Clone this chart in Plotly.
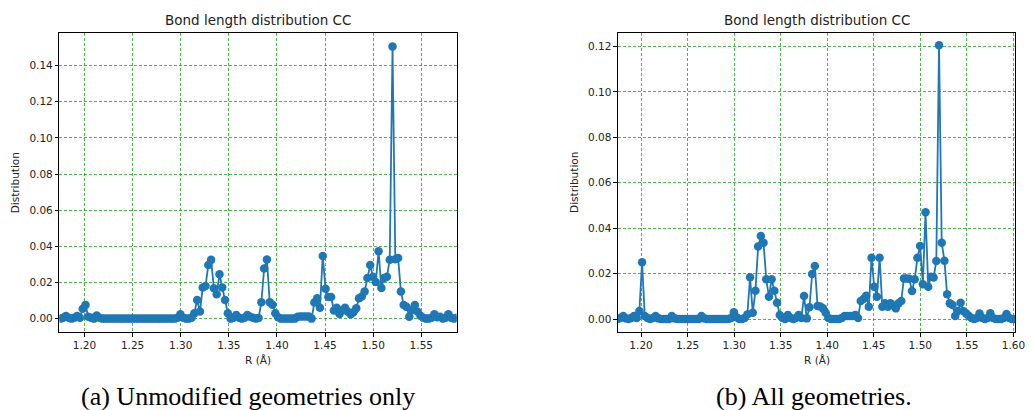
import plotly.graph_objects as go

# Bin centres (R, in Angstrom) shared by both panels
r_bins = [
    1.1750, 1.1779, 1.1808, 1.1837, 1.1866, 1.1895, 1.1924, 1.1953, 1.1982, 1.2011,
    1.2040, 1.2069, 1.2098, 1.2127, 1.2156, 1.2185, 1.2214, 1.2243, 1.2272, 1.2301,
    1.2330, 1.2359, 1.2388, 1.2417, 1.2446, 1.2475, 1.2504, 1.2533, 1.2562, 1.2591,
    1.2620, 1.2649, 1.2678, 1.2707, 1.2736, 1.2765, 1.2794, 1.2823, 1.2852, 1.2881,
    1.2910, 1.2939, 1.2968, 1.2997, 1.3026, 1.3055, 1.3084, 1.3113, 1.3142, 1.3171,
    1.3200, 1.3229, 1.3258, 1.3287, 1.3316, 1.3345, 1.3374, 1.3403, 1.3432, 1.3461,
    1.3490, 1.3519, 1.3548, 1.3577, 1.3606, 1.3635, 1.3664, 1.3693, 1.3722, 1.3751,
    1.3780, 1.3809, 1.3838, 1.3867, 1.3896, 1.3925, 1.3954, 1.3983, 1.4012, 1.4041,
    1.4070, 1.4099, 1.4128, 1.4157, 1.4186, 1.4215, 1.4244, 1.4273, 1.4302, 1.4331,
    1.4360, 1.4389, 1.4418, 1.4447, 1.4476, 1.4505, 1.4534, 1.4563, 1.4592, 1.4621,
    1.4650, 1.4679, 1.4708, 1.4737, 1.4766, 1.4795, 1.4824, 1.4853, 1.4882, 1.4911,
    1.4940, 1.4969, 1.4998, 1.5027, 1.5056, 1.5085, 1.5114, 1.5143, 1.5172, 1.5201,
    1.5230, 1.5259, 1.5288, 1.5317, 1.5346, 1.5375, 1.5404, 1.5433, 1.5462, 1.5491,
    1.5520, 1.5549, 1.5578, 1.5607, 1.5636, 1.5665, 1.5694, 1.5723, 1.5752, 1.5781,
    1.5810, 1.5839, 1.5868, 1.5897, 1.5926, 1.5955, 1.5984, 1.6013,
]

# (a) Unmodified geometries only
dist_a = [
    0, 0.0005, 0.0015, 0.0005, 0, 0.0005, 0.0015, 0.0005, 0.0055, 0.0076,
    0.001, 0.0005, 0, 0.0017, 0.0005, 0, 0, 0, 0, 0,
    0, 0, 0, 0, 0, 0, 0, 0, 0, 0,
    0, 0, 0, 0, 0, 0, 0, 0, 0, 0,
    0, 0, 0.0005, 0.0024, 0.0005, 0, 0, 0.0005, 0.003, 0.0103,
    0.0039, 0.0172, 0.018, 0.0297, 0.0325, 0.0168, 0.0135, 0.0246, 0.0172, 0.0103,
    0.003, 0, 0.0005, 0.002, 0.0005, 0, 0.0005, 0.002, 0.001, 0.0005,
    0, 0.0003, 0.009, 0.0277, 0.0327, 0.009, 0.0077, 0.003, 0.0008, 0,
    0, 0, 0, 0, 0, 0.001, 0.0012, 0.0012, 0.0012, 0.0012,
    0, 0.0089, 0.0113, 0.006, 0.0347, 0.0165, 0.012, 0.012, 0.0045, 0.006,
    0.0025, 0.0045, 0.006, 0.0038, 0.0024, 0.0035, 0.0058, 0.0113, 0.0122, 0.015,
    0.0225, 0.0297, 0.0232, 0.0203, 0.0373, 0.017, 0.0225, 0.0232, 0.0326, 0.1505,
    0.0328, 0.0335, 0.015, 0.0075, 0.0065, 0.0011, 0.0047, 0.0075, 0.0038, 0.0016,
    0.0005, 0, 0, 0.0005, 0.0024, 0.0008, 0.001, 0, 0.0005, 0.0024,
    0.0005, 0, 0.0005,
]

# (b) All geometries
dist_b = [
    0, 0.0005, 0.0013, 0.0003, 0, 0.0005, 0.0013, 0.0005, 0.0035, 0.025,
    0.0013, 0.0005, 0, 0.0005, 0.0013, 0.0003, 0, 0, 0, 0,
    0.0013, 0.0003, 0, 0, 0, 0, 0, 0, 0, 0,
    0, 0.0013, 0.0003, 0, 0, 0, 0, 0, 0, 0,
    0, 0, 0.0005, 0.003, 0.0008, 0, 0, 0.0005, 0.002, 0.0184,
    0.0028, 0.0125, 0.0319, 0.0366, 0.0336, 0.0175, 0.0098, 0.0175, 0.0125, 0.0072,
    0.0018, 0.0005, 0, 0.0018, 0.0005, 0, 0.0005, 0.0018, 0.0005, 0.0101,
    0.0003, 0.0052, 0.0198, 0.0233, 0.0057, 0.0055, 0.0047, 0.0028, 0.0005, 0,
    0, 0, 0, 0.0005, 0.0013, 0.0013, 0.0013, 0.0013, 0.0018, 0.0005,
    0.0079, 0.0088, 0.0103, 0.0054, 0.027, 0.0142, 0.0098, 0.027, 0.0054, 0.0069,
    0.0054, 0.0069, 0.006, 0.0047, 0.0069, 0.0079, 0.0179, 0.0178, 0.0177, 0.0123,
    0.0175, 0.027, 0.0322, 0.0153, 0.047, 0.0142, 0.0186, 0.0183, 0.0256, 0.1205,
    0.0336, 0.0257, 0.0109, 0.0069, 0.0062, 0.0013, 0.0035, 0.0072, 0.0035, 0.0025,
    0.0015, 0.0005, 0, 0.0005, 0.0024, 0.0005, 0, 0.0005, 0.0025, 0.0005,
    0, 0, 0, 0.0005, 0.0022, 0.0005, 0, 0,
]

x_ticks = [1.20, 1.25, 1.30, 1.35, 1.40, 1.45, 1.50, 1.55, 1.60]
title_text = "Bond length distribution CC"
x_label = "R (Å)"
y_label = "Distribution"
captions = ["(a) Unmodified geometries only", "(b) All geometries."]

W, H = 1033, 410
BLUE = "#1f77b4"
FONT = "DejaVu Sans"
SERIF = "Liberation Serif, Times New Roman, Times, serif"

# plot areas in pixels (left, right, top, bottom)
areas = [(60, 461, 33, 332), (624, 1025, 33, 332)]
x_ranges = [[1.174, 1.5866], [1.1752, 1.6018]]
y_ranges = [[-0.0074, 0.158], [-0.0057, 0.1259]]
y_ticks = [[0, 0.02, 0.04, 0.06, 0.08, 0.10, 0.12, 0.14],
           [0, 0.02, 0.04, 0.06, 0.08, 0.10, 0.12]]
caption_x = [250, 822]

fig = go.Figure()
series = [dist_a, dist_b]
layout = dict(
    width=W, height=H,
    margin=dict(l=0, r=0, t=0, b=0),
    paper_bgcolor="white", plot_bgcolor="white",
    showlegend=False,
    font=dict(family=FONT, color="#222222", size=10),
)
annotations = []
for k in range(2):
    xa = "x" if k == 0 else "x2"
    ya = "y" if k == 0 else "y2"
    vals = series[k]
    fig.add_trace(go.Scatter(
        x=r_bins[:len(vals)], y=vals, xaxis=xa, yaxis=ya,
        mode="lines+markers",
        line=dict(color=BLUE, width=1.8),
        marker=dict(color=BLUE, size=8.5, line=dict(width=0)),
        cliponaxis=True,
    ))
    L, R, T, B = areas[k]
    axis_common = dict(
        showline=True, linecolor="black", linewidth=1, mirror=True,
        ticks="outside", ticklen=3.5, tickwidth=0.8, tickcolor="black",
        showgrid=True, gridcolor="rgba(0,150,0,0.7)", gridwidth=0.6,
        griddash="3px,2px", zeroline=False,
        tickfont=dict(family=FONT, size=10.5, color="#222222"),
        ticklabeloverflow="allow",
    )
    layout["xaxis" + ("" if k == 0 else "2")] = dict(
        axis_common, domain=[L / W, R / W], range=x_ranges[k],
        anchor=ya, tickvals=x_ticks, tickformat=".2f",
    )
    layout["yaxis" + ("" if k == 0 else "2")] = dict(
        axis_common, domain=[1 - B / H, 1 - T / H], range=y_ranges[k],
        anchor=xa, tickvals=y_ticks[k], tickformat=".2f",
    )
    cx = (L + R) / 2
    annotations.append(dict(
        text=title_text, x=cx / W, y=1 - 20 / H, xref="paper", yref="paper",
        xanchor="center", yanchor="middle", showarrow=False,
        font=dict(family=FONT, size=13.5, color="#222222"),
    ))
    annotations.append(dict(
        text=x_label, x=cx / W, y=1 - 360 / H, xref="paper", yref="paper",
        xanchor="center", yanchor="middle", showarrow=False,
        font=dict(family=FONT, size=10.5, color="#222222"),
    ))
    annotations.append(dict(
        text=y_label, x=(L - 44) / W, y=1 - ((T + B) / 2) / H,
        xref="paper", yref="paper", textangle=-90,
        xanchor="center", yanchor="middle", showarrow=False,
        font=dict(family=FONT, size=10.5, color="#222222"),
    ))
    annotations.append(dict(
        text=captions[k], x=caption_x[k] / W, y=1 - 396 / H,
        xref="paper", yref="paper", xanchor="center", yanchor="middle",
        showarrow=False,
        font=dict(family=SERIF, size=26, color="black"),
    ))
layout["annotations"] = annotations
fig.update_layout(**layout)
fig.write_html("out.html")
